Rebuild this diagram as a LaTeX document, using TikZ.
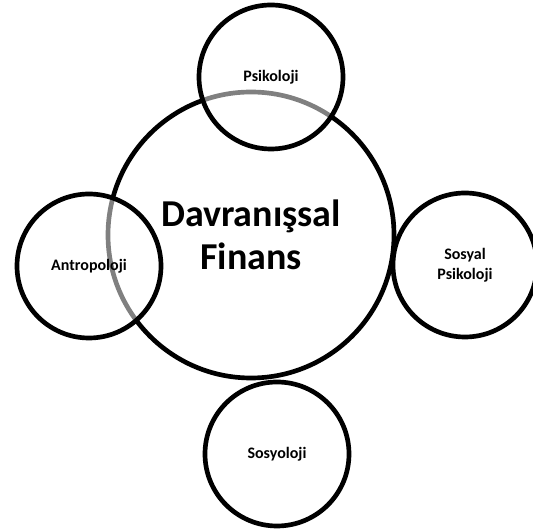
\documentclass[tikz,border=0pt]{standalone}
\usepackage{fontspec}
\setmainfont{Carlito}

\tikzset{
  bigcircle/.style={circle, draw=black, line width=3.5pt, minimum size=214.5pt, inner sep=0pt, align=center, font=\fontsize{28.5}{32.5}\selectfont\bfseries},
  smallcircle/.style={circle, draw=black, line width=3.5pt, fill=white, fill opacity=0.5, text opacity=1, minimum size=108pt, inner sep=0pt, align=center, font=\fontsize{12}{15}\selectfont\bfseries}
}

\begin{document}
\begin{tikzpicture}[x=0.75pt,y=0.75pt,yscale=-1,xscale=1]
\useasboundingbox (0,0) rectangle (533,530);

% Main Circle
\node [bigcircle] (finans) at (251,235) {Davranışsal\\Finans};
% Circle Node
\node [smallcircle] (psikoloji) at (271,77) {Psikoloji};
% Circle Node
\node [smallcircle] (antropoloji) at (89,266) {Antropoloji};
% Circle Node
\node [smallcircle] (sosyalpsikoloji) at (465,265) {Sosyal\\Psikoloji};
% Circle Node
\node [smallcircle] (sosyoloji) at (277,454) {Sosyoloji};

\end{tikzpicture}
\end{document}
